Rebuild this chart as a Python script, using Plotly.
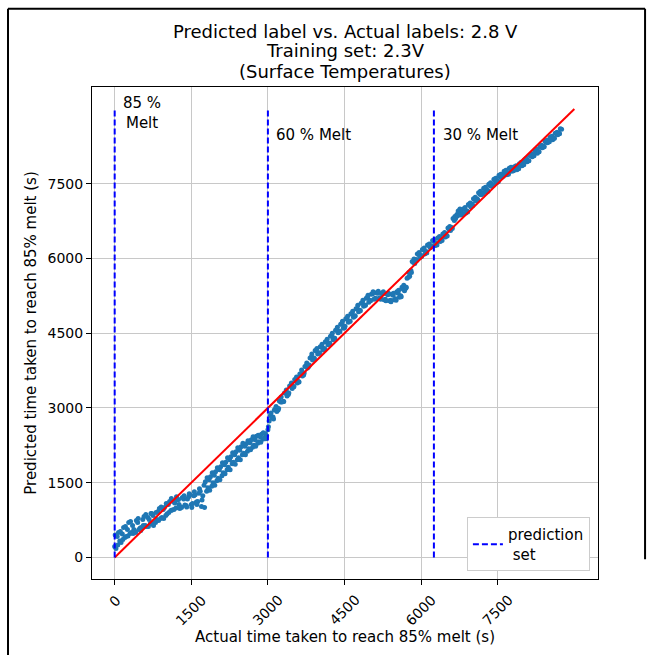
import plotly.graph_objects as go

# ---------------- data ----------------
actual_s = [0, 50, 100, 150, 200, 250, 300, 350, 400, 450, 500, 550, 600, 650, 700, 750, 800, 850, 900, 950,
            1000, 1050, 1100, 1150, 1200, 1250, 1300, 1350, 1400, 1450, 1500, 1550, 1600, 1650, 1700, 1750, 1800, 1850, 1900, 1950,
            2000, 2050, 2100, 2150, 2200, 2250, 2300, 2350, 2400, 2450, 2500, 2550, 2600, 2650, 2700, 2750, 2800, 2850, 2900, 2950,
            3000, 3050, 3100, 3150, 3200, 3250, 3300, 3350, 3400, 3450, 3500, 3550, 3600, 3650, 3700, 3750, 3800, 3850, 3900, 3950,
            4000, 4050, 4100, 4150, 4200, 4250, 4300, 4350, 4400, 4450, 4500, 4550, 4600, 4650, 4700, 4750, 4800, 4850, 4900, 4950,
            5000, 5050, 5100, 5150, 5200, 5250, 5300, 5350, 5400, 5450, 5500, 5550, 5600, 5650, 5700, 5750, 5800, 5850, 5900, 5950,
            6000, 6050, 6100, 6150, 6200, 6250, 6300, 6350, 6400, 6450, 6500, 6550, 6600, 6650, 6700, 6750, 6800, 6850, 6900, 6950,
            7000, 7050, 7100, 7150, 7200, 7250, 7300, 7350, 7400, 7450, 7500, 7550, 7600, 7650, 7700, 7750, 7800, 7850, 7900, 7950,
            8000, 8050, 8100, 8150, 8200, 8250, 8300, 8350, 8400, 8450, 8500, 8550, 8600, 8650, 8700, 8750,
            25, 75, 125, 175, 225, 275, 325, 375, 425, 475, 525, 575, 625, 675, 725, 775, 825, 875, 925, 975,
            1025, 1075, 1125, 1175, 1225, 1275, 1325, 1375, 1425, 1475, 1525, 1575, 1625, 1675, 1725, 1775, 1825, 1875, 1925, 1975,
            2025, 2075, 2125, 2175, 2225, 2275, 2325, 2375, 2425, 2475, 2525, 2575, 2625, 2675, 2725, 2775, 2825, 2875, 2925, 2975,
            3025, 3075, 3125, 3175, 3225, 3275, 3325, 3375, 3425, 3475, 3525, 3575, 3625, 3675, 3725, 3775, 3825, 3875, 3925, 3975,
            4025, 4075, 4125, 4175, 4225, 4275, 4325, 4375, 4425, 4475, 4525, 4575, 4625, 4675, 4725, 4775, 4825, 4875, 4925, 4975,
            5025, 5075, 5125, 5175, 5225, 5275, 5325, 5375, 5425, 5475, 5525, 5575, 5625, 5675, 5725, 5775, 5825, 5875, 5925, 5975,
            6025, 6075, 6125, 6175, 6225, 6275, 6325, 6375, 6425, 6475, 6525, 6575, 6625, 6675, 6725, 6775, 6825, 6875, 6925, 6975,
            7025, 7075, 7125, 7175, 7225, 7275, 7325, 7375, 7425, 7475, 7525, 7575, 7625, 7675, 7725, 7775, 7825, 7875, 7925, 7975,
            8025, 8075, 8125, 8175, 8225, 8275, 8325, 8375, 8425, 8475, 8525, 8575, 8625, 8675, 8725,
            10, 60, 110, 160, 210, 260, 310, 360, 410, 460, 510, 560, 610, 660, 710, 760, 810, 860, 910, 960,
            1010, 1060, 1110, 1160, 1210, 1260, 1310, 1360, 1410, 1460, 1510, 1560, 1610, 1660, 1710, 1760, 1810, 1860, 1910, 1960,
            2010, 2060, 2110, 2160, 2210, 2260, 2310, 2360, 2410, 2460, 2510, 2560, 2610, 2660, 2710, 2760, 2810, 2860, 2910, 2960,
            3010, 3060, 3110, 3160, 3210, 3260, 3310, 3360, 3410, 3460, 3510, 3560, 3610, 3660, 3710, 3760, 3810, 3860, 3910, 3960,
            4010, 4060, 4110, 4160, 4210, 4260, 4310, 4360, 4410, 4460, 4510, 4560, 4610, 4660, 4710, 4760, 4810, 4860, 4910, 4960,
            5010, 5060, 5110, 5160, 5210, 5260, 5310, 5360, 5410, 5460, 5510, 5560, 5610, 5660, 5710, 5760, 5810, 5860, 5910, 5960,
            6010, 6060, 6110, 6160, 6210, 6260, 6310, 6360, 6410, 6460, 6510, 6560, 6610, 6660, 6710, 6760, 6810, 6860, 6910, 6960,
            7010, 7060, 7110, 7160, 7210, 7260, 7310, 7360, 7410, 7460, 7510, 7560, 7610, 7660, 7710, 7760, 7810, 7860, 7910, 7960,
            8010, 8060, 8110, 8160, 8210, 8260, 8310, 8360, 8410, 8460, 8510, 8560, 8610, 8660, 8710]
predicted_s = [220, 420, 330, 470, 400, 560, 480, 640, 520, 700, 590, 760, 640, 800, 680, 840, 700, 920, 780, 960,
               840, 1060, 940, 1120, 990, 1160, 1010, 1170, 1040, 1220, 1060, 1240, 1110, 1290, 1020, 1450, 1330, 1560, 1430, 1650,
               1540, 1760, 1640, 1860, 1760, 1960, 1880, 2060, 1960, 2150, 2060, 2230, 2130, 2300, 2210, 2360, 2290, 2420, 2370, 2480,
               2560, 2850, 2820, 2990, 2960, 3120, 3130, 3300, 3270, 3440, 3420, 3560, 3530, 3680, 3660, 3850, 3830, 4020, 4000, 4140,
               4100, 4230, 4170, 4330, 4290, 4450, 4400, 4560, 4540, 4680, 4610, 4780, 4740, 4880, 4840, 4990, 4960, 5110, 5060, 5220,
               5160, 5290, 5200, 5300, 5210, 5290, 5180, 5270, 5160, 5260, 5190, 5300, 5250, 5380, 5400, 5620, 5760, 5920, 5980, 6080,
               6060, 6170, 6140, 6260, 6250, 6340, 6300, 6400, 6380, 6480, 6460, 6580, 6620, 6760, 6880, 6960, 6910, 6990, 6950, 7060,
               7090, 7180, 7190, 7290, 7320, 7400, 7370, 7460, 7480, 7560, 7550, 7630, 7670, 7740, 7710, 7790, 7770, 7830, 7810, 7890,
               7890, 7970, 7960, 8060, 8070, 8150, 8140, 8230, 8250, 8330, 8350, 8420, 8410, 8500, 8510, 8590,
               180, 500, 300, 600, 420, 700, 500, 560, 740, 560, 600, 820, 620, 760, 880, 700, 760, 980, 800, 1000,
               870, 1120, 950, 1090, 1150, 980, 1200, 1050, 1170, 1260, 1080, 1260, 1120, 1330, 1240, 1520, 1400, 1620, 1500, 1720,
               1590, 1820, 1700, 1910, 1810, 2020, 1910, 2120, 2000, 2220, 2090, 2280, 2180, 2360, 2250, 2430, 2320, 2470, 2390, 2440,
               2740, 2800, 2960, 2930, 3140, 3120, 3300, 3240, 3440, 3390, 3570, 3500, 3680, 3640, 3830, 3800, 4000, 3960, 4150, 4080,
               4230, 4160, 4330, 4270, 4440, 4370, 4560, 4510, 4680, 4600, 4790, 4720, 4890, 4820, 4990, 4930, 5100, 5040, 5200, 5120,
               5280, 5180, 5310, 5200, 5300, 5170, 5290, 5150, 5280, 5170, 5330, 5220, 5420, 5350, 5600, 5640, 5940, 5900, 6090, 6020,
               6180, 6090, 6270, 6220, 6360, 6260, 6410, 6340, 6490, 6430, 6610, 6560, 6800, 6800, 6950, 6870, 6990, 6910, 7080, 7030,
               7200, 7150, 7320, 7280, 7410, 7330, 7490, 7450, 7590, 7520, 7670, 7630, 7750, 7680, 7810, 7750, 7840, 7780, 7900, 7860,
               7980, 7940, 8070, 8040, 8160, 8110, 8240, 8220, 8350, 8320, 8430, 8380, 8510, 8480, 8600,
               450, 250, 520, 360, 620, 430, 720, 480, 500, 780, 540, 640, 860, 620, 880, 640, 900, 740, 1010, 780,
               1080, 900, 1180, 960, 1220, 1060, 1000, 1240, 1010, 1280, 1000, 1320, 1060, 1380, 1150, 1000, 1600, 1350, 1700, 1450,
               1800, 1560, 1900, 1680, 2000, 1760, 2100, 1870, 2200, 1960, 2290, 2060, 2340, 2160, 2420, 2230, 2450, 2310, 2500, 2380,
               2620, 2900, 2780, 3030, 2990, 3220, 3130, 3360, 3300, 3500, 3430, 3620, 3520, 3760, 3700, 3900, 3860, 4080, 3990, 4190,
               4100, 4280, 4190, 4380, 4300, 4500, 4400, 4620, 4530, 4740, 4640, 4840, 4740, 4940, 4850, 5060, 4950, 5160, 5060, 5260,
               5150, 5330, 5190, 5340, 5180, 5330, 5150, 5300, 5130, 5300, 5160, 5360, 5230, 5460, 5420, 5720, 5720, 5990, 5960, 6120,
               6040, 6210, 6110, 6290, 6230, 6380, 6270, 6440, 6360, 6520, 6450, 6640, 6600, 6840, 6850, 6990, 6880, 7020, 6930, 7110,
               7060, 7230, 7170, 7350, 7300, 7430, 7350, 7520, 7470, 7610, 7540, 7690, 7650, 7770, 7690, 7830, 7760, 7860, 7800, 7930,
               7880, 8010, 7960, 8100, 8060, 8190, 8140, 8270, 8240, 8370, 8340, 8450, 8410, 8530, 8500]

ideal_x = [0, 9000]
ideal_y = [0, 9000]

melt_positions = [0, 3000, 6250]
melt_line_top = 9000
melt_labels = ["85 %<br>Melt", "60 % Melt", "30 % Melt"]
melt_label_x = [120, 3120, 6380]
melt_label_y = [9330, 8480, 8480]

tick_vals = [0, 1500, 3000, 4500, 6000, 7500]
tick_text = ["0", "1500", "3000", "4500", "6000", "7500"]

title_lines = ["Predicted label vs. Actual labels: 2.8 V", "Training set: 2.3V", "(Surface Temperatures)"]
title_line_px = [31, 51, 72]
x_title = "Actual time taken to reach 85% melt (s)"
y_title = "Predicted time taken to reach 85% melt (s)"
legend_name = "prediction<br> set"

FONT = "DejaVu Sans"
W, H = 651, 655
ML, MR, MT, MB = 92, 53, 87, 76
PH = H - MT - MB

n = min(len(actual_s), len(predicted_s))

fig = go.Figure()

fig.add_trace(go.Scatter(
    x=actual_s[:n], y=predicted_s[:n], mode="markers",
    marker=dict(color="#1f77b4", size=5, line=dict(width=0)),
    showlegend=False, hoverinfo="skip"))

fig.add_trace(go.Scatter(
    x=ideal_x, y=ideal_y, mode="lines",
    line=dict(color="red", width=2), showlegend=False))

vx, vy = [], []
for p in melt_positions:
    vx += [p, p, None]
    vy += [0, melt_line_top, None]
fig.add_trace(go.Scatter(
    x=vx, y=vy, mode="lines", name=legend_name,
    line=dict(color="blue", width=2, dash="6px,3px")))

annotations = []
for lab, lx, ly in zip(melt_labels, melt_label_x, melt_label_y):
    annotations.append(dict(x=lx, y=ly, xref="x", yref="y", text=lab, showarrow=False,
                            xanchor="left", yanchor="top" if "<br>" in lab else "middle",
                            align="center", font=dict(family=FONT, size=15, color="black")))

# title lines
for line, py in zip(title_lines, title_line_px):
    annotations.append(dict(x=0.5, y=(H - MB - py) / PH, xref="paper", yref="paper", text=line,
                            showarrow=False, xanchor="center", yanchor="middle",
                            font=dict(family=FONT, size=18, color="black")))

# rotated x tick labels, centred under their ticks
for tv, tt in zip(tick_vals, tick_text):
    annotations.append(dict(x=tv, y=0, xref="x", yref="paper", text=tt, showarrow=False,
                            textangle=-45, xanchor="center", yanchor="top", yshift=-10,
                            font=dict(family=FONT, size=14, color="black")))

# x axis title
annotations.append(dict(x=0.5, y=(H - MB - 637) / PH, xref="paper", yref="paper", text=x_title,
                        showarrow=False, xanchor="center", yanchor="middle",
                        font=dict(family=FONT, size=15, color="black")))

# frame around figure
shapes = [
    dict(type="line", xref="paper", yref="paper", x0=-0.166, x1=-0.166, y0=-0.2, y1=1.159,
         line=dict(color="black", width=2)),
    dict(type="line", xref="paper", yref="paper", x0=-0.166, x1=1.093, y0=1.159, y1=1.159,
         line=dict(color="black", width=2)),
    dict(type="line", xref="paper", yref="paper", x0=1.093, x1=1.093, y0=0.04, y1=1.159,
         line=dict(color="black", width=2)),
]

fig.update_layout(
    width=W, height=H,
    margin=dict(l=ML, r=MR, t=MT, b=MB),
    paper_bgcolor="white", plot_bgcolor="white",
    font=dict(family=FONT, size=15, color="black"),
    showlegend=True,
    legend=dict(x=0.984, y=0.016, xanchor="right", yanchor="bottom",
                bgcolor="white", bordercolor="#cccccc", borderwidth=1,
                font=dict(family=FONT, size=15)),
    annotations=annotations,
    shapes=shapes,
)

axis_common = dict(showline=True, linecolor="black", linewidth=1, mirror=True,
                   showgrid=True, gridcolor="#c8c8c8", gridwidth=1,
                   ticks="outside", ticklen=5, tickcolor="black", automargin=False,
                   zeroline=False, tickfont=dict(family=FONT, size=14))

fig.update_xaxes(range=[-444, 9463], tickvals=tick_vals, ticktext=tick_text, showticklabels=False,
                 **axis_common)
fig.update_yaxes(range=[-433, 9440], tickvals=tick_vals, ticktext=tick_text,
                 title=dict(text=y_title, font=dict(family=FONT, size=15), standoff=7),
                 **axis_common)

fig.write_html("out.html")
